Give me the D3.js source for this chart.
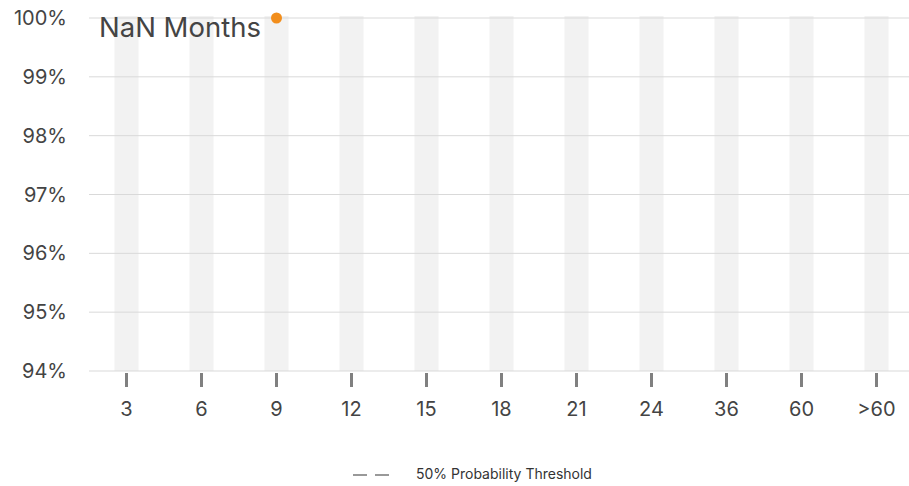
<!DOCTYPE html>
<html>
<head>
<meta charset="utf-8">
<script src="https://cdn.jsdelivr.net/npm/d3@7"></script>
<style>
  body { margin: 0; background: #fff; font-family: Inter, "Noto Sans", sans-serif; }
  svg text { font-family: Inter, "Noto Sans", sans-serif; }
</style>
</head>
<body>
<div id="chart"></div>
<script>
var months = ["3", "6", "9", "12", "15", "18", "21", "24", "36", "60", ">60"];
var yTicks = [0.94, 0.95, 0.96, 0.97, 0.98, 0.99, 1.00];
var points = [{month: "9", prob: 1.00}];
var titleText = "NaN Months";
var legendText = "50% Probability Threshold";

var W = 909, H = 486;
var margin = {left: 89, right: 0, top: 18, bottom: 115};
var height = H - margin.top - margin.bottom;

var svg = d3.select("#chart").append("svg")
    .attr("width", W)
    .attr("height", H);

var x = d3.scalePoint().domain(months).range([margin.left, 914]).padding(0.5);
var y = d3.scaleLinear().domain([0.94, 1.0]).range([margin.top + height, margin.top]);

// column bands
svg.append("g").selectAll("rect")
    .data(months)
  .enter().append("rect")
    .attr("x", function(d) { return x(d) - 12; })
    .attr("y", margin.top - 2)
    .attr("width", 24)
    .attr("height", y(0.94) - margin.top + 2)
    .style("fill", "#f2f2f2");

// y gridlines
svg.append("g").selectAll("line")
    .data(yTicks)
  .enter().append("line")
    .attr("x1", margin.left)
    .attr("x2", W)
    .attr("y1", function(d) { return y(d); })
    .attr("y2", function(d) { return y(d); })
    .style("stroke", "#d9d9d9")
    .style("stroke-width", 1);

// y labels
svg.append("g").selectAll("text")
    .data(yTicks)
  .enter().append("text")
    .attr("x", 67)
    .attr("y", function(d) { return y(d); })
    .attr("dy", "0.35em")
    .style("text-anchor", "end")
    .style("font-size", "20px")
    .style("fill", "#444")
    .text(function(d) { return d3.format(".0%")(d); });

// x ticks
var xAxis = svg.append("g");
xAxis.selectAll("line")
    .data(months)
  .enter().append("line")
    .attr("x1", function(d) { return x(d); })
    .attr("x2", function(d) { return x(d); })
    .attr("y1", y(0.94) + 2)
    .attr("y2", y(0.94) + 16)
    .style("stroke", "#808080")
    .style("stroke-width", 3);
xAxis.selectAll("text")
    .data(months)
  .enter().append("text")
    .attr("x", function(d) { return x(d); })
    .attr("y", 416)
    .style("text-anchor", "middle")
    .style("font-size", "20px")
    .style("fill", "#444")
    .text(function(d) { return d; });

// title
svg.append("text")
    .attr("x", 99)
    .attr("y", 37)
    .style("font-size", "27.5px")
    .style("fill", "#444")
    .text(titleText);

// points
svg.append("g").selectAll("circle")
    .data(points)
  .enter().append("circle")
    .attr("cx", function(d) { return x(d.month); })
    .attr("cy", function(d) { return y(d.prob); })
    .attr("r", 5.5)
    .style("fill", "#f28e1c");

// legend
svg.append("line")
    .attr("x1", 353).attr("x2", 391)
    .attr("y1", 475).attr("y2", 475)
    .style("stroke", "#999")
    .style("stroke-width", 2)
    .style("stroke-dasharray", "14,8");
svg.append("text")
    .attr("x", 416)
    .attr("y", 479)
    .style("font-size", "14px")
    .style("fill", "#333")
    .text(legendText);
</script>
</body>
</html>
